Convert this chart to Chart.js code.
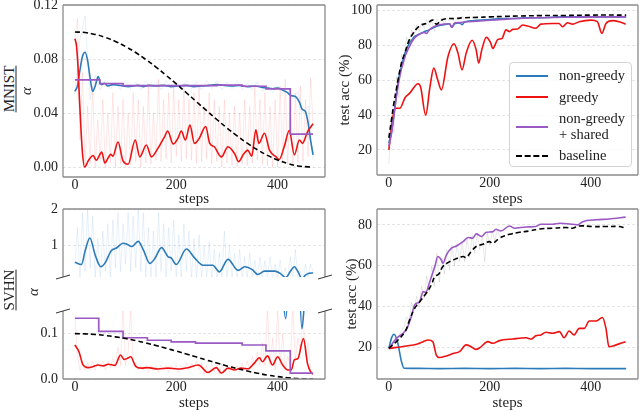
<!DOCTYPE html>
<html>
<head>
<meta charset="utf-8">
<script src="https://cdn.jsdelivr.net/npm/chart.js@4.4.1/dist/chart.umd.min.js"></script>
<style>
  body { margin: 0; width: 640px; height: 412px; overflow: hidden; position: relative; background: #fff;
         font-family: "Liberation Serif", "DejaVu Serif", serif; color: #222; }
  canvas { position: absolute; }
  .rot { position: absolute; transform: translate(-50%, -50%) rotate(-90deg); font-size: 15px;
         text-decoration: underline; text-underline-offset: 2px; white-space: nowrap; }
  .alpha { position: absolute; transform: translate(-50%, -50%) rotate(-90deg); font-size: 15px; font-style: italic; }
  #legend { position: absolute; left: 509px; top: 62px; width: 123px; height: 105px; box-sizing: border-box;
            border: 1px solid #d4d4d4; border-radius: 4px; background: rgba(255,255,255,0.85);
            padding: 5px 0 0 6px; font-size: 14.5px; line-height: 15.5px; }
  .row { display: flex; align-items: center; margin-bottom: 6px; }
  .swatch { width: 32px; height: 0; margin-right: 11px; flex: none; }
  .name { white-space: pre-line; }
</style>
</head>
<body>
<canvas id="cA" width="312" height="208" style="left:18px;top:0"></canvas>
<canvas id="cB" width="304" height="208" style="left:336px;top:0"></canvas>
<canvas id="cC" width="318" height="86" style="left:18px;top:196px"></canvas>
<canvas id="cD" width="318" height="112" style="left:18px;top:300px"></canvas>
<canvas id="cE" width="297" height="216" style="left:343px;top:196px"></canvas>
<div class="rot" style="left:9px;top:89px">MNIST</div>
<div class="rot" style="left:9px;top:290px">SVHN</div>
<div class="alpha" style="left:33px;top:292px">α</div>
<div id="legend"></div>

<script>
/* ---------- Data ---------- */
const seriesNames = ["non-greedy", "greedy", "non-greedy\n+ shared", "baseline"];
const seriesColors = ["#2b7bba", "#ee1111", "#9b59c4", "#000000"];
const stepTicks = [0, 200, 400];

// baseline alpha schedule (same in both alpha panels)
const baseAlphaSteps = [0,20,40,60,80,100,120,140,160,180,200,220,240,260,280,300,320,340,360,380,400,420,440,460,470];
const baseAlpha = [0.1,0.0996,0.0982,0.0960,0.0930,0.0892,0.0848,0.0796,0.0740,0.0679,0.0616,0.0550,0.0483,0.0417,0.0352,0.0289,0.0231,0.0177,0.0128,0.0086,0.0052,0.0026,0.0008,0.0001,0.0];

// MNIST alpha
const mnAlphaNgSteps = [0,5,10,15,20,25,30,35,40,46,52,58,65,75,85,95,105,115,125,135,145,160,175,190,205,220,235,250,265,280,295,310,325,340,355,370,380,390,400,410,418,426,436,443,448,455,460,465,470];
const mnAlphaNg = [0.056,0.060,0.072,0.082,0.085,0.079,0.066,0.056,0.060,0.067,0.061,0.062,0.060,0.061,0.0605,0.060,0.0595,0.060,0.0605,0.0595,0.0605,0.060,0.0605,0.0595,0.060,0.0605,0.0595,0.060,0.0605,0.061,0.0605,0.060,0.0605,0.0595,0.060,0.059,0.0585,0.058,0.0585,0.057,0.0555,0.053,0.052,0.048,0.043,0.041,0.033,0.020,0.009];
const mnAlphaGrSteps = [0,3,6,9,12,15,19,27,36,42,53,59,66,71,75,85,95,105,119,128,141,151,164,177,183,194,203,210,218,227,236,245,258,266,275,289,302,315,323,332,341,349,357,363,374,384,397,403,413,423,433,443,449,459,470];
const mnAlphaGr = [0.095,0.090,0.075,0.050,0.028,0.010,0.000,0.005,0.0085,0.005,0.011,0.003,0.007,0.0095,0.008,0.0185,0.0045,0.002,0.020,0.0075,0.0163,0.0075,0.014,0.0225,0.0267,0.017,0.021,0.0267,0.020,0.031,0.0175,0.021,0.030,0.0175,0.015,0.0075,0.015,0.010,0.004,0.009,0.0125,0.008,0.0275,0.0175,0.025,0.0125,0.0075,0.0055,0.015,0.027,0.009,0.020,0.0175,0.026,0.032];
const mnAlphaShSteps = [0,49,95,280,330,377,425,470];
const mnAlphaSh = [0.0645,0.0618,0.0603,0.0607,0.0598,0.0578,0.0244,0.0244];
const mnAlphaGrRaw = [0.095,0.11,0.02,0.07,0.0,0.045,0.002,0.06,0.0,0.035,
  0.005,0.05,0.0,0.04,0.003,0.055,0.0,0.045,0.002,0.05,
  0.0,0.04,0.002,0.055,0.004,0.05,0.0,0.045,0.003,0.06,
  0.002,0.04,0.005,0.065,0.004,0.05,0.006,0.055,0.003,0.06,
  0.008,0.05,0.004,0.062,0.006,0.05,0.005,0.055,0.003,0.06,
  0.004,0.045,0.006,0.055,0.002,0.05,0.004,0.045,0.0,0.05,
  0.003,0.04,0.001,0.045,0.0,0.04,0.002,0.05,0.001,0.045,
  0.003,0.06,0.005,0.05,0.002,0.055,0.001,0.045,0.0,0.05,
  0.0,0.06,0.003,0.065,0.002,0.05,0.001,0.055,0.003,0.06,
  0.004,0.05,0.008,0.066,0.03];
const mnAlphaNgRaw = [0.054,0.095,0.112,0.05,0.068,0.057,0.064,0.058,0.063,0.057,
  0.064,0.058,0.063,0.057,0.064,0.058,0.063,0.057,0.064,0.058,
  0.063,0.057,0.064,0.058,0.063,0.057,0.064,0.058,0.064,0.057,
  0.063,0.058,0.064,0.057,0.062,0.057,0.063,0.056,0.061,0.055,
  0.06,0.054,0.058,0.05,0.056,0.04,0.045,0.005];

// MNIST test accuracy
const mnAccNgSteps = [0,5,10,15,20,25,30,35,40,45,50,60,70,80,90,100,110,120,125,130,140,145,150,175,200,225,250,275,300,350,400,470];
const mnAccNg = [24,30,40,52,62,68,74,78,81,83,85,86.5,88,89,90.5,91.5,92,92.5,90.5,92.5,93,92,93.5,94.5,95,95.5,95.5,96,96,96.5,96.5,96.5];
const mnAccGrSteps = [0,5,12,22,32,41,58,63,73,81,89,97,104,117,129,137,145,153,165,173,178,184,193,201,206,216,224,232,239,245,255,265,275,291,301,324,337,344,354,364,377,400,413,422,430,443,456,469];
const mnAccGr = [20,33,44,44,50,52.5,58,56,40,55.4,67,60,54.5,73.6,81,75.5,66,75.5,83,77.4,70,77.4,84.7,82,78.4,83.5,84,89,88,89.3,89.5,91.8,91.2,89.9,92.3,92.7,92.7,90.8,93.1,92.3,93.7,94.6,93.7,87,92.7,94.3,93.7,92.3];
const mnAccShSteps = [0,5,10,20,30,40,50,60,70,75,80,90,100,110,120,125,130,140,150,175,200,225,250,300,350,400,470];
const mnAccSh = [22,29,40,60,72,79,84,86.5,87.5,87,89,91,92,92.3,92.5,90.5,93,93.2,93.5,94,94.5,95,95.5,96,96.3,96.5,96.5];
const mnAccBaseSteps = [0,5,10,15,18,25,32,40,48,56,64,77,87,94,104,115,130,150,175,200,225,260,300,350,400,470];
const mnAccBase = [27,37,47,55,60,70,76,83,87,90,91.8,93,94.6,92.3,94.5,95.5,95.5,96,96.2,96.5,96.7,97,97.2,97.3,97.5,97.5];
const mnAccBaseRaw = [12,40,30,62,50,75,68,85,80,89,86,92,88,93,90,95,91,94,88,95,93,96,92,96,94,96,93,96,95,97,94];

// SVHN alpha
const svAlphaNgSteps = [0,13,20,29.5,40,51,59,72,82,95,102,112,125,135,148,158,171,184,190,200,220,236,253,272,285,302,322,335,350,361,374,394,405,416,425,433,440,448,455,462,470];
const svAlphaNg = [0.55,0.49,0.85,1.21,0.75,0.43,0.52,0.87,0.94,1.07,1.05,0.98,1.12,0.89,0.52,0.66,0.95,0.70,0.67,0.49,0.91,0.67,0.47,0.47,0.29,0.63,0.33,0.43,0.35,0.22,0.31,0.31,0.25,0.133,0.30,0.43,0.30,0.111,0.20,0.25,0.26];
const svAlphaGrSteps = [0,8,16,26,36,46,56,66,79,90,97,104,110,120,131,144,164,184,203,223,243,249,262,279,289,302,315,328,341,354,364,370,380,390,400,410,420,427,433,440,451,459,466,470];
const svAlphaGr = [0.075,0.06,0.031,0.025,0.0275,0.031,0.029,0.0326,0.030,0.053,0.043,0.046,0.049,0.028,0.024,0.025,0.022,0.024,0.022,0.025,0.031,0.0275,0.0145,0.025,0.013,0.024,0.020,0.024,0.0225,0.035,0.047,0.038,0.051,0.031,0.049,0.031,0.020,0.020,0.042,0.045,0.089,0.034,0.014,0.011];
const svAlphaShSteps = [0,47,95,143,190,238,330,377,425,470];
const svAlphaSh = [0.134,0.105,0.091,0.0855,0.082,0.079,0.075,0.062,0.013,0.013];
const svAlphaNgRaw = [0.5,1.5,0.1,1.9,0.3,2.0,0.4,1.8,0.1,1.2,
  0.1,1.4,0.3,1.6,0.1,1.7,0.4,1.9,0.3,1.6,
  0.5,1.9,0.3,1.8,0.4,2.0,0.3,1.9,0.1,1.5,
  0.1,1.4,0.1,1.9,0.3,1.6,0.1,1.5,0.3,1.7,
  0.1,1.3,0.1,1.6,0.3,1.4,0.1,1.2,0.1,1.3,
  0.1,1.0,0.1,1.1,0.1,0.9,0.1,0.8,0.1,1.4,
  0.1,1.0,0.1,0.8,0.1,0.9,0.1,0.7,0.1,0.8,
  0.1,0.6,0.1,0.7,0.1,0.6,0.1,0.7,0.1,0.5,
  0.1,0.6,0.1,0.4,0.1,0.7,0.1,0.9,0.1,0.3,
  0.1,0.5,0.1,0.5,0.3];
const svAlphaGrRaw = [0.14,0.05,0.02,0.04,0.02,0.035,0.02,0.04,0.02,0.035,
  0.025,0.04,0.02,0.04,0.025,0.045,0.03,0.07,0.03,0.16,
  0.03,0.06,0.16,0.03,0.035,0.02,0.03,0.02,0.03,0.015,
  0.03,0.02,0.03,0.015,0.03,0.02,0.03,0.015,0.03,0.02,
  0.03,0.015,0.03,0.02,0.035,0.02,0.035,0.025,0.04,0.02,
  0.035,0.01,0.03,0.01,0.035,0.015,0.03,0.01,0.035,0.015,
  0.03,0.015,0.03,0.02,0.03,0.015,0.035,0.02,0.04,0.02,
  0.05,0.03,0.06,0.03,0.08,0.03,0.16,0.03,0.09,0.02,
  0.16,0.03,0.1,0.02,0.05,0.03,0.16,0.04,0.09,0.06,
  0.14,0.05,0.08,0.02,0.01];

// SVHN test accuracy
const svAccNgSteps = [0,5,10,17,25,30,60,100,150,200,250,300,350,400,470];
const svAccNg = [19.5,24.4,26.4,22.8,13,9.8,9.7,9.6,9.7,9.6,9.7,9.6,9.7,9.6,9.6];
const svAccGrSteps = [0,35,55,68,78,87,94,100,114,127,140,153,163,172,180,196,206,219,245,272,282,291,301,311,324,338,347,357,367,377,387,397,410,423,430,436,449,469];
const svAccGr = [19.5,20.7,21.5,22.8,23.6,22.8,16.2,15,15.8,17,17.9,21.2,20.3,19,19.8,22.8,22,23.3,24.1,24.7,24.1,25.7,26.1,27.4,26.9,27.7,24.7,28,26.1,29.3,29.3,32.9,32.9,34.6,29.3,20.3,21.1,22.8];
const svAccShSteps = [0,15,28,36,45,51,61,68,73,81,91,97,104,107,114,124,134,147,157,166,173,183,193,206,212,222,239,249,272,291,301,324,338,364,374,384,410,436,469];
const svAccSh = [19.5,24.4,26.9,29.3,35.5,40.8,42.4,47.3,47,52.2,59.6,64.5,62.8,61.2,65.3,68.6,69.7,71.8,73.8,73.5,75.6,74.3,76.4,76.7,77.9,77,79.5,78.4,79,79.2,80.3,80.3,80.8,80.3,80,81.6,82.5,82.9,83.8];
const svAccBaseSteps = [0,15,32,41,51,61,74,84,91,99,107,117,127,147,153,163,173,186,199,206,219,239,259,278,298,324,351,364,377,403,430,456,469];
const svAccBase = [19.5,22.8,27.7,33.4,39.1,42.4,46.5,50.6,54.6,56,59.6,61.5,62.8,64.5,64,66.9,69.4,70.5,71.8,71,73.5,75.4,76.4,77,78,78.4,78.7,78.4,79.5,79.2,79.2,79.2,78.4];
const svAccBaseRaw = [19,21,22,24,26,28,30,35,33,42,38,45,40,50,44,55,47,60,50,66,52,64,56,68,58,70,60,71,62,72,62,74,64,75,66,76,68,75,62,76,70,77,72,78,74];

/* ---------- Helpers ---------- */
const X_MIN = -23.5, X_MAX = 493.5;
const [BLUE, RED, PURPLE, BLACK] = seriesColors;

Chart.defaults.font.family = '"Liberation Serif", "DejaVu Serif", serif';
Chart.defaults.color = "#222";

const line = (xs, ys, color, extra) => Object.assign({
  data: xs.map((x, i) => ({ x, y: ys[i] })),
  borderColor: color, borderWidth: 1.6, pointRadius: 0,
  cubicInterpolationMode: "monotone", fill: false
}, extra || {});

// raw (unsmoothed) traces are sampled every `every` steps
const raw = (ys, every, color) => ({
  data: ys.map((y, i) => ({ x: i * every, y })),
  borderColor: color, borderWidth: 1, pointRadius: 0, tension: 0, fill: false
});

const dashed = { borderDash: [5, 3], tension: 0.4, cubicInterpolationMode: "default" };
const stepped = { stepped: "before", borderWidth: 1.7 };

// matplotlib-like box around the plot + broken-axis marks
const frame = {
  id: "frame",
  afterDatasetsDraw(chart, args, opts) {
    const { ctx, chartArea: a } = chart;
    const s = opts.sides || "tlbr";
    ctx.save();
    ctx.strokeStyle = "#8c8c8c";
    ctx.lineWidth = 1.3;
    ctx.beginPath();
    if (s.includes("t")) { ctx.moveTo(a.left, a.top); ctx.lineTo(a.right, a.top); }
    if (s.includes("b")) { ctx.moveTo(a.left, a.bottom); ctx.lineTo(a.right, a.bottom); }
    if (s.includes("l")) { ctx.moveTo(a.left, a.top); ctx.lineTo(a.left, a.bottom); }
    if (s.includes("r")) { ctx.moveTo(a.right, a.top); ctx.lineTo(a.right, a.bottom); }
    ctx.stroke();
    if (opts.breaks) {
      const y = opts.breaks === "bottom" ? a.bottom : a.top;
      ctx.strokeStyle = "#333";
      ctx.lineWidth = 1;
      ctx.beginPath();
      [a.left, a.right].forEach(x => { ctx.moveTo(x - 7, y + 2); ctx.lineTo(x + 7, y - 2); });
      ctx.stroke();
    }
    ctx.restore();
  }
};

function makeChart(id, o) {
  return new Chart(document.getElementById(id), {
    type: "line",
    data: { datasets: o.datasets },
    options: {
      responsive: false, animation: false, devicePixelRatio: 1,
      layout: { padding: o.padding },
      plugins: { legend: { display: false }, tooltip: { enabled: false },
                 frame: { sides: o.sides, breaks: o.breaks } },
      scales: {
        x: {
          type: "linear", min: X_MIN, max: X_MAX, display: o.xHeight > 0,
          grid: { display: false, drawTicks: false }, border: { display: false },
          ticks: { padding: 0, maxRotation: 0, autoSkip: false, font: { size: 14 } },
          afterBuildTicks: s => { s.ticks = stepTicks.map(v => ({ value: v })); },
          afterFit: s => { s.height = o.xHeight; s.paddingLeft = 0; s.paddingRight = 0; },
          title: { display: true, text: "steps", padding: 0, font: { size: 15 } }
        },
        y: {
          type: "linear", min: o.yMin, max: o.yMax,
          grid: { color: "#dddddd", lineWidth: 0.8, drawTicks: false },
          border: { display: false, dash: [3, 2] },
          ticks: { padding: 5, font: { size: 14 }, callback: o.yFmt },
          afterBuildTicks: s => { s.ticks = o.yTicks.map(v => ({ value: v })); },
          afterFit: s => { s.width = o.yWidth; s.paddingTop = 0; s.paddingBottom = 0; },
          title: o.yTitle
            ? { display: true, text: o.yTitle, padding: 0, font: { size: 15, style: o.yItalic ? "italic" : "normal" } }
            : { display: false }
        }
      }
    },
    plugins: [frame]
  });
}

/* ---------- Panels ---------- */
const PINK = "rgba(255,40,40,0.11)", LIGHTBLUE = "rgba(70,140,210,0.12)", GRAY = "rgba(0,0,0,0.09)";

// MNIST alpha
makeChart("cA", {
  padding: { top: 5, right: 5, left: 0, bottom: 0 }, yWidth: 45, xHeight: 31,
  yMin: -0.0074, yMax: 0.12, yTicks: [0, 0.04, 0.08, 0.12], yFmt: v => v.toFixed(2),
  yTitle: "α", yItalic: true, sides: "tlbr",
  datasets: [
    line(baseAlphaSteps, baseAlpha, BLACK, dashed),
    line(mnAlphaShSteps, mnAlphaSh, PURPLE, stepped),
    line(mnAlphaGrSteps, mnAlphaGr, RED),
    line(mnAlphaNgSteps, mnAlphaNg, BLUE),
    raw(mnAlphaNgRaw, 10, LIGHTBLUE),
    raw(mnAlphaGrRaw, 5, PINK)
  ]
});

// MNIST accuracy
makeChart("cB", {
  padding: { top: 5, right: 2, left: 0, bottom: 0 }, yWidth: 41, xHeight: 33,
  yMin: 5.6, yMax: 103.3, yTicks: [20, 40, 60, 80, 100], yFmt: v => String(v),
  yTitle: "test acc (%)", sides: "tlbr",
  datasets: [
    line(mnAccBaseSteps, mnAccBase, BLACK, dashed),
    line(mnAccShSteps, mnAccSh, PURPLE),
    line(mnAccNgSteps, mnAccNg, BLUE),
    line(mnAccGrSteps, mnAccGr, RED),
    raw(mnAccBaseRaw, 5, GRAY)
  ]
});

// SVHN alpha, upper part of the broken axis
makeChart("cC", {
  padding: { top: 13, right: 11, left: 0, bottom: 5 }, yWidth: 45, xHeight: 0,
  yMin: 0.15, yMax: 2, yTicks: [1, 2], yFmt: v => String(v),
  sides: "tlr", breaks: "bottom",
  datasets: [
    line(svAlphaNgSteps, svAlphaNg, BLUE),
    raw(svAlphaNgRaw, 5, LIGHTBLUE)
  ]
});

// SVHN alpha, lower part
makeChart("cD", {
  padding: { top: 11, right: 11, left: 0, bottom: 0 }, yWidth: 45, xHeight: 33,
  yMin: 0, yMax: 0.15, yTicks: [0, 0.1], yFmt: v => v.toFixed(1),
  sides: "lbr", breaks: "top",
  datasets: [
    line(baseAlphaSteps, baseAlpha, BLACK, dashed),
    line(svAlphaShSteps, svAlphaSh, PURPLE, stepped),
    line(svAlphaGrSteps, svAlphaGr, RED),
    line(svAlphaNgSteps, svAlphaNg, BLUE),
    raw(svAlphaGrRaw, 5, PINK)
  ]
});

// SVHN accuracy
makeChart("cE", {
  padding: { top: 13, right: 2, left: 0, bottom: 0 }, yWidth: 34, xHeight: 33,
  yMin: 4.5, yMax: 87.8, yTicks: [20, 40, 60, 80], yFmt: v => String(v),
  yTitle: "test acc (%)", sides: "tlbr",
  datasets: [
    line(svAccBaseSteps, svAccBase, BLACK, dashed),
    line(svAccShSteps, svAccSh, PURPLE),
    line(svAccGrSteps, svAccGr, RED),
    line(svAccNgSteps, svAccNg, BLUE),
    raw(svAccBaseRaw, 5, GRAY)
  ]
});

/* ---------- Legend ---------- */
const legend = document.getElementById("legend");
seriesNames.forEach((name, i) => {
  const row = document.createElement("div");
  row.className = "row";
  row.innerHTML = `<span class="swatch" style="border-top:2px ${i === 3 ? "dashed" : "solid"} ${seriesColors[i]}"></span><span class="name">${name}</span>`;
  legend.appendChild(row);
});
</script>
</body>
</html>
